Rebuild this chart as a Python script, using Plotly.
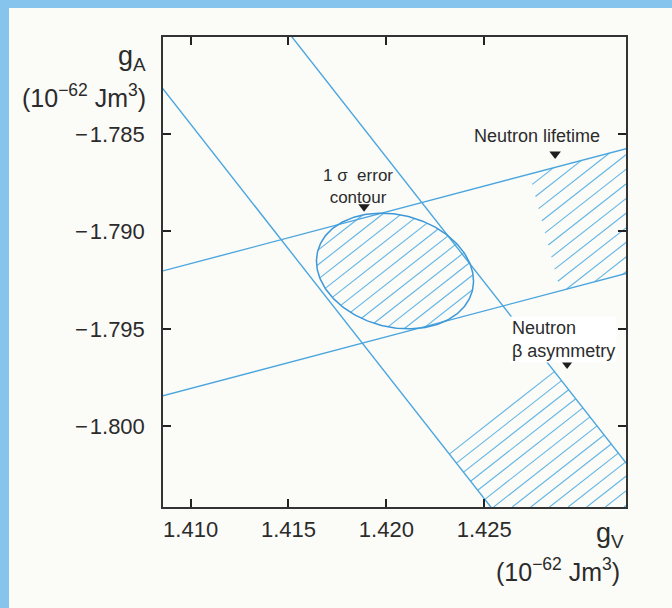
import numpy as np
import plotly.graph_objects as go

# ---------------- data ----------------
X_RANGE = [1.40859, 1.43224]          # gV axis range (10^-62 J m^3)
Y_RANGE = [-1.80413, -1.78003]        # gA axis range (10^-62 J m^3)

X_TICKS = [1.410, 1.415, 1.420, 1.425]
X_TICK_TEXT = ["1.410", "1.415", "1.420", "1.425"]
Y_TICKS = [-1.785, -1.790, -1.795, -1.800]
Y_TICK_TEXT = ["\u2212\u200a1.785", "\u2212\u200a1.790", "\u2212\u200a1.795", "\u2212\u200a1.800"]

GV_REF = 1.42                          # reference gV for band intercepts

# Neutron lifetime band: gA = intercept + slope * (gV - GV_REF)
LIFETIME_SLOPE = 0.265
LIFETIME_UPPER = -1.7890
LIFETIME_LOWER = -1.7954
LIFETIME_HATCH_FROM_GV = 1.4281        # hatching starts here (along band)

# Neutron beta asymmetry band: gA = intercept + slope * (gV - GV_REF)
ASYM_SLOPE = -1.28
ASYM_LEFT = -1.7973
ASYM_RIGHT = -1.7862
ASYM_HATCH_FROM_GV = 1.4259            # hatching starts here (along band)

# 1 sigma error contour
ELLIPSE_CENTER = (1.42044, -1.79203)
ELLIPSE_HALF_WIDTH = 0.00401
ELLIPSE_HALF_HEIGHT = 0.00292
ELLIPSE_SHEAR = 0.00051

HATCH_SPACING_PX = 11.5

# ---------------- layout geometry ----------------
W, H = 672, 608
M_L, M_R, M_T, M_B = 163, 46, 37, 101
PW, PH = W - M_L - M_R, H - M_T - M_B

BLUE = "#4ba6de"
HATCH = "#62b5e5"
FRAME = "#86c4ee"
TEXT = "#2b2b2b"
FONT = "Liberation Sans"


def to_px(x, y):
    u = (np.asarray(x, float) - X_RANGE[0]) / (X_RANGE[1] - X_RANGE[0]) * PW
    v = (np.asarray(y, float) - Y_RANGE[0]) / (Y_RANGE[1] - Y_RANGE[0]) * PH
    return u, v


def to_data(u, v):
    x = X_RANGE[0] + np.asarray(u, float) / PW * (X_RANGE[1] - X_RANGE[0])
    y = Y_RANGE[0] + np.asarray(v, float) / PH * (Y_RANGE[1] - Y_RANGE[0])
    return x, y


def band_line(intercept, slope, xs):
    xs = np.asarray(xs, float)
    return xs, intercept + slope * (xs - GV_REF)


def unit(vx, vy):
    n = np.hypot(vx, vy)
    return vx / n, vy / n


kx = PW / (X_RANGE[1] - X_RANGE[0])
ky = PH / (Y_RANGE[1] - Y_RANGE[0])
asym_dir = np.array(unit(kx, ASYM_SLOPE * ky))
life_dir = np.array(unit(kx, LIFETIME_SLOPE * ky))


def halfplane_line(intercept, slope):
    x0, y0 = band_line(intercept, slope, [GV_REF])
    u0, v0 = to_px(x0[0], y0[0])
    d = np.array(unit(kx, slope * ky))
    nrm = np.array([-d[1], d[0]])
    return np.array([u0, v0]), nrm


def clip(poly, p0, nrm, keep_positive=True):
    out = []
    sgn = 1 if keep_positive else -1
    n = len(poly)
    for i in range(n):
        a, b = poly[i], poly[(i + 1) % n]
        fa = sgn * np.dot(a - p0, nrm)
        fb = sgn * np.dot(b - p0, nrm)
        if fa >= 0:
            out.append(a)
        if (fa >= 0) != (fb >= 0):
            t = fa / (fa - fb)
            out.append(a + t * (b - a))
    return out


box = [np.array(p, float) for p in [(0, 0), (PW, 0), (PW, PH), (0, PH)]]

# lifetime hatched region
p, nm = halfplane_line(LIFETIME_UPPER, LIFETIME_SLOPE)
life_poly = clip(box, p, nm, keep_positive=False)
p, nm = halfplane_line(LIFETIME_LOWER, LIFETIME_SLOPE)
life_poly = clip(life_poly, p, nm, keep_positive=True)
cx_, cy_ = band_line((LIFETIME_UPPER + LIFETIME_LOWER) / 2, LIFETIME_SLOPE,
                     [LIFETIME_HATCH_FROM_GV])
cu, cv = to_px(cx_[0], cy_[0])
life_poly = clip(life_poly, np.array([cu, cv]), life_dir, keep_positive=True)

# asymmetry hatched region
p, nm = halfplane_line(ASYM_LEFT, ASYM_SLOPE)
asym_poly = clip(box, p, nm, keep_positive=True)
p, nm = halfplane_line(ASYM_RIGHT, ASYM_SLOPE)
asym_poly = clip(asym_poly, p, nm, keep_positive=False)
cx_, cy_ = band_line((ASYM_LEFT + ASYM_RIGHT) / 2, ASYM_SLOPE,
                     [ASYM_HATCH_FROM_GV])
acu, acv = to_px(cx_[0], cy_[0])
asym_anchor = np.array([acu, acv])
asym_poly = clip(asym_poly, asym_anchor, asym_dir, keep_positive=True)

# ellipse
t = np.linspace(0, 2 * np.pi, 241)
ex = ELLIPSE_CENTER[0] + ELLIPSE_HALF_WIDTH * np.cos(t)
ey = ELLIPSE_CENTER[1] + ELLIPSE_HALF_HEIGHT * np.sin(t) - ELLIPSE_SHEAR * np.cos(t)
eu, ev = to_px(ex, ey)
ell_poly = [np.array([a, b]) for a, b in zip(eu[:-1], ev[:-1])]

# hatch lines perpendicular to the asymmetry band
nvec = asym_dir
tvec = np.array([-nvec[1], nvec[0]])
c_anchor = np.dot(asym_anchor, nvec)


def hatch(poly):
    P = np.array(poly)
    proj = P @ nvec
    kmin = int(np.floor((proj.min() - c_anchor) / HATCH_SPACING_PX))
    kmax = int(np.ceil((proj.max() - c_anchor) / HATCH_SPACING_PX))
    xs, ys = [], []
    n = len(P)
    for k in range(kmin, kmax + 1):
        c = c_anchor + k * HATCH_SPACING_PX + 1e-6
        pts = []
        for i in range(n):
            a, b = P[i], P[(i + 1) % n]
            fa, fb = a @ nvec - c, b @ nvec - c
            if (fa >= 0) != (fb >= 0):
                tt = fa / (fa - fb)
                pts.append(a + tt * (b - a))
        pts.sort(key=lambda q: q @ tvec)
        for j in range(0, len(pts) - 1, 2):
            dx, dy = to_data([pts[j][0], pts[j + 1][0]], [pts[j][1], pts[j + 1][1]])
            xs += [dx[0], dx[1], None]
            ys += [dy[0], dy[1], None]
    return xs, ys


fig = go.Figure()

for poly in (ell_poly, life_poly, asym_poly):
    hx, hy = hatch(poly)
    fig.add_trace(go.Scatter(x=hx, y=hy, mode="lines",
                             line=dict(color=HATCH, width=1.1),
                             hoverinfo="skip", showlegend=False))

xs_full = [X_RANGE[0] - 0.01, X_RANGE[1] + 0.01]
for icpt, slope in ((LIFETIME_UPPER, LIFETIME_SLOPE), (LIFETIME_LOWER, LIFETIME_SLOPE),
                    (ASYM_LEFT, ASYM_SLOPE), (ASYM_RIGHT, ASYM_SLOPE)):
    lx, ly = band_line(icpt, slope, xs_full)
    fig.add_trace(go.Scatter(x=lx, y=ly, mode="lines",
                             line=dict(color=BLUE, width=1.4),
                             hoverinfo="skip", showlegend=False))

fig.add_trace(go.Scatter(x=ex, y=ey, mode="lines",
                         line=dict(color="#3d98d8", width=1.5),
                         hoverinfo="skip", showlegend=False))

# marker triangles under the labels
TRI_X = [1.42862, 1.41886, 1.42923]
TRI_Y = [-1.78603, -1.78874, -1.79680]
fig.add_trace(go.Scatter(x=TRI_X, y=TRI_Y, mode="markers",
                         marker=dict(symbol="triangle-down", size=10, color="#1e1e1e"),
                         hoverinfo="skip", showlegend=False))

annotations = [
    dict(x=1.42770, y=-1.78510, xref="x", yref="y", text="Neutron lifetime",
         showarrow=False, font=dict(size=18, color=TEXT, family=FONT)),
    dict(x=1.41855, y=-1.78768, xref="x", yref="y", text="1 \u03c3  error<br>contour",
         showarrow=False, font=dict(size=17, color=TEXT, family=FONT)),
    dict(x=1.42630, y=-1.79556, xref="x", yref="y", xanchor="left",
         text="Neutron<br>\u03b2 asymmetry", align="left", showarrow=False,
         bgcolor="#ffffff", borderpad=1,
         font=dict(size=18, color=TEXT, family=FONT)),
    dict(x=-15 / PW, y=(H - M_B - 58) / PH, xref="paper", yref="paper",
         xanchor="right", yanchor="middle", text="g<sub>A</sub>", showarrow=False,
         font=dict(size=27, color=TEXT, family=FONT)),
    dict(x=-15 / PW, y=(H - M_B - 96) / PH, xref="paper", yref="paper",
         xanchor="right", yanchor="middle",
         text="(10<sup>\u221262</sup> Jm<sup>3</sup>)", showarrow=False,
         font=dict(size=25, color=TEXT, family=FONT)),
    dict(x=(626 - M_L) / PW, y=(H - M_B - 535) / PH, xref="paper", yref="paper",
         xanchor="right", yanchor="middle", text="g<sub>V</sub>", showarrow=False,
         font=dict(size=27, color=TEXT, family=FONT)),
    dict(x=(622 - M_L) / PW, y=(H - M_B - 570) / PH, xref="paper", yref="paper",
         xanchor="right", yanchor="middle",
         text="(10<sup>\u221262</sup> Jm<sup>3</sup>)", showarrow=False,
         font=dict(size=25, color=TEXT, family=FONT)),
]

shapes = [
    dict(type="rect", xref="paper", yref="paper", layer="below",
         x0=(9 - M_L) / PW, x1=(680 - M_L) / PW,
         y0=(H - M_B - 615) / PH, y1=(H - M_B - 8) / PH,
         fillcolor="#fbfbf8", line=dict(width=0)),
]

axis_common = dict(ticks="inside", ticklen=8, tickwidth=2, tickcolor="#222",
                   showline=True, linecolor="#333", linewidth=1.5, mirror="ticks",
                   showgrid=False, zeroline=False,
                   tickfont=dict(size=22, color=TEXT, family=FONT))

fig.update_layout(
    width=W, height=H,
    margin=dict(l=M_L, r=M_R, t=M_T, b=M_B, pad=0),
    paper_bgcolor=FRAME, plot_bgcolor="#fdfdfc",
    xaxis=dict(range=X_RANGE, tickmode="array", tickvals=X_TICKS,
               ticktext=X_TICK_TEXT, ticklabelstandoff=2, **axis_common),
    yaxis=dict(range=Y_RANGE, tickmode="array", tickvals=Y_TICKS,
               ticktext=Y_TICK_TEXT, ticklabelstandoff=12, **axis_common),
    annotations=annotations, shapes=shapes,
)

fig.write_html("out.html")
